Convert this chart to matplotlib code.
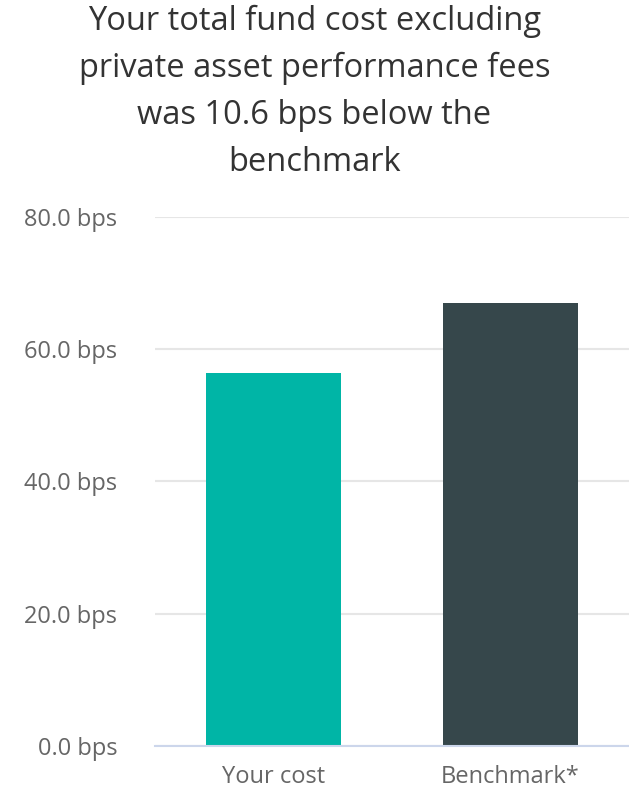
import matplotlib.pyplot as plt

categories = ["Your cost", "Benchmark*"]
values = [56.4, 67.0]
bar_colors = ["#00b5a6", "#36474b"]
y_ticks = [0, 20, 40, 60, 80]
title = "Your total fund cost excluding\nprivate asset performance fees\nwas 10.6 bps below the\nbenchmark"

plt.rcParams["font.family"] = ["Open Sans", "DejaVu Sans"]

fig = plt.figure(figsize=(6.29, 7.95), dpi=100)
ax = fig.add_axes([155 / 629, 49 / 795, 474 / 629, 529.5 / 795])

x = list(range(len(categories)))
ax.bar(x, values, width=0.57, color=bar_colors, zorder=3)

ax.set_xlim(-0.5, 1.5)
ax.set_ylim(0, 80)
ax.set_yticks(y_ticks)
ax.set_yticklabels(["%.1f bps" % v for v in y_ticks])
ax.set_xticks(x)
ax.set_xticklabels(categories)

ax.grid(axis="y", color="#e6e6e6", linewidth=1.5, zorder=0)
for s in ["top", "right", "left"]:
    ax.spines[s].set_visible(False)
ax.spines["bottom"].set_color("#ccd6eb")
ax.spines["bottom"].set_linewidth(1.5)
ax.spines["bottom"].set_zorder(4)

ax.tick_params(axis="y", length=0, pad=27, labelsize=17, labelcolor="#666666")
ax.tick_params(axis="x", length=0, pad=14, labelsize=17, labelcolor="#666666")

fig.text(0.5, 1 - 5 / 795, title, ha="center", va="top", fontsize=23.5,
         color="#333333", linespacing=1.55)

fig.savefig("out.png", dpi=100)
